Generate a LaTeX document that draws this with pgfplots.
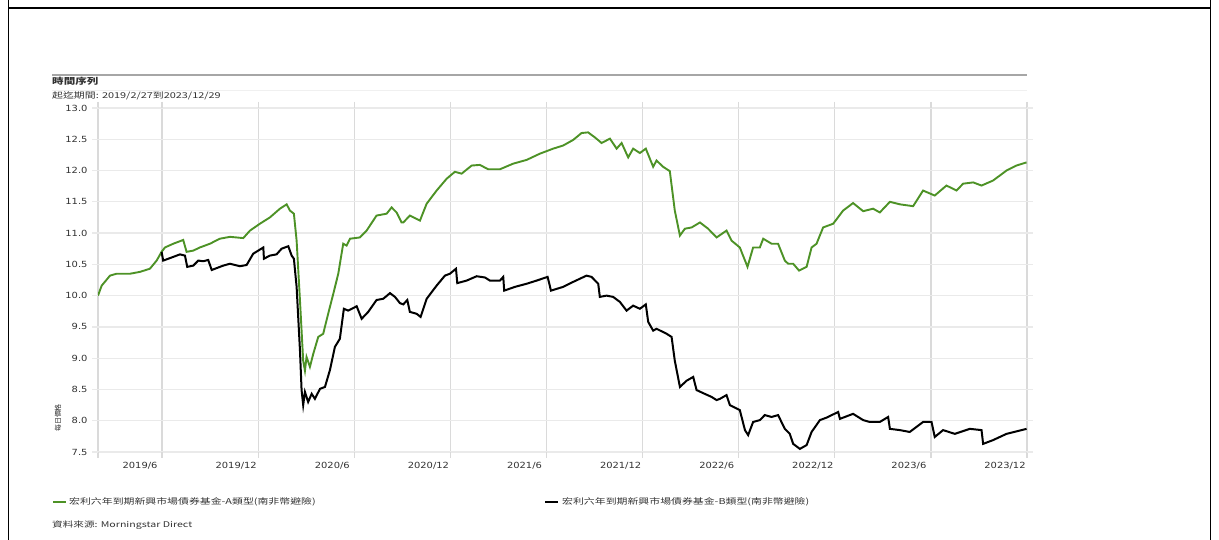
\documentclass[border=0pt]{standalone}
\usepackage{fontspec}
\usepackage{pgfplots}
\pgfplotsset{compat=1.18}
\setmainfont{DejaVu Sans}[FakeStretch=1.17]
\newfontfamily\cjk{Noto Sans CJK TC}[FakeStretch=1.35]
\newfontfamily\cjkplain{Noto Sans CJK TC}
\definecolor{fundA}{RGB}{77,146,38}
\definecolor{gridv}{RGB}{218,218,218}
\definecolor{gridh}{RGB}{234,234,234}
\definecolor{txt}{RGB}{50,50,50}
\begin{document}
\begin{tikzpicture}[x=1bp,y=1bp]
\useasboundingbox (0,0) rectangle (1219,540);
% table cell border
\draw[line width=1bp] (8,0) -- (8,540);
\draw[line width=1bp] (1210,0) -- (1210,540);
\draw[line width=1.8bp] (8,532) -- (1210,532);
% header
\draw[gray!70, line width=1.5bp] (52,465) -- (1027,465);
\node[anchor=west, inner sep=0, text=txt] at (52,459) {\cjk\bfseries\fontsize{8.6}{10}\selectfont 時間序列};
\draw[gray!12, line width=0.8bp] (52,450) -- (1027,450);
\node[anchor=west, inner sep=0, text=txt] at (52,444) {\cjk\fontsize{8.1}{9}\selectfont 起迄期間: 2019/2/27到2023/12/29};
% y label
\node[rotate=90, inner sep=0, text=txt] at (58,122) {\cjkplain\fontsize{7}{8}\selectfont 每日價格};

\begin{axis}[
    at={(98bp,88bp)}, anchor=south west,
    scale only axis,
    width=929bp, height=344bp,
    xmin=2, xmax=60,
    ymin=7.5, ymax=13.0,
    axis line style={draw=none},
    xtick={2,6,12,18,24,30,36,42,48,54,60},
    xticklabels={,2019/6,2019/12,2020/6,2020/12,2021/6,2021/12,2022/6,2022/12,2023/6,2023/12},
    ytick={7.5,8.0,...,13.0},
    yticklabel style={/pgf/number format/fixed, /pgf/number format/fixed zerofill, /pgf/number format/precision=1, xshift=-1bp},
    /pgf/number format/assume math mode=true,
    tick label style={font=\fontsize{8.5}{10}\selectfont, text=txt},
    xticklabel style={xshift=-22bp, yshift=-1bp},
    tick align=outside,
    major tick length=6bp,
    xtick style={draw=gridv, line width=1.2bp},
    ytick style={draw=gridh, line width=1.2bp},
    xmajorgrids, ymajorgrids,
    x grid style={draw=gridv, line width=1.2bp},
    y grid style={draw=gridh, line width=1.2bp},
  ]
  \addplot[fundA, line width=1.9bp] coordinates {
(2.0,10.0)(2.23,10.16)(2.75,10.32)(3.16,10.35)(4.0,10.35)(4.62,10.38)(5.24,10.43)(5.66,10.56)(5.97,10.7)(6.18,10.77)(6.70,10.83)(7.32,10.89)(7.53,10.70)(7.95,10.72)(8.36,10.77)(8.99,10.83)(9.61,10.91)(10.24,10.94)(11.07,10.92)(11.49,11.04)(12.11,11.15)(12.73,11.25)(13.36,11.39)(13.78,11.46)(13.98,11.36)(14.23,11.31)(14.40,10.88)(14.61,9.92)(14.81,8.96)(14.92,8.80)(15.02,9.02)(15.23,8.86)(15.44,9.07)(15.75,9.34)(16.06,9.39)(16.37,9.71)(16.69,10.03)(17.00,10.35)(17.31,10.83)(17.52,10.80)(17.73,10.91)(18.35,10.93)(18.77,11.04)(19.39,11.28)(20.02,11.31)(20.33,11.41)(20.64,11.33)(20.95,11.17)(21.06,11.17)(21.47,11.28)(22.10,11.20)(22.52,11.47)(23.14,11.68)(23.77,11.87)(24.28,11.98)(24.70,11.95)(25.33,12.08)(25.84,12.09)(26.36,12.02)(27.09,12.02)(27.92,12.11)(28.76,12.17)(29.59,12.27)(30.42,12.35)(31.04,12.40)(31.67,12.49)(32.19,12.60)(32.60,12.61)(33.02,12.53)(33.44,12.44)(33.96,12.51)(34.38,12.35)(34.69,12.44)(35.10,12.21)(35.41,12.35)(35.83,12.28)(36.20,12.35)(36.66,12.06)(36.87,12.16)(37.28,12.06)(37.70,11.99)(38.01,11.36)(38.33,10.96)(38.64,11.07)(39.06,11.09)(39.58,11.17)(40.09,11.07)(40.62,10.93)(41.24,11.04)(41.55,10.88)(42.07,10.77)(42.55,10.46)(42.90,10.77)(43.32,10.77)(43.53,10.91)(44.05,10.83)(44.46,10.83)(44.88,10.56)(45.09,10.51)(45.40,10.51)(45.77,10.40)(46.24,10.46)(46.55,10.77)(46.86,10.83)(47.27,11.09)(47.90,11.15)(48.52,11.36)(49.14,11.48)(49.77,11.35)(50.39,11.39)(50.81,11.33)(51.44,11.50)(52.06,11.46)(52.89,11.43)(53.51,11.68)(54.24,11.60)(54.97,11.76)(55.60,11.68)(56.01,11.79)(56.64,11.81)(57.16,11.76)(57.88,11.84)(58.72,12.00)(59.34,12.08)(59.97,12.13)
  };
  \addplot[black, line width=2bp] coordinates {
(5.97,10.70)(6.07,10.56)(6.60,10.61)(7.12,10.66)(7.43,10.64)(7.57,10.46)(7.95,10.48)(8.26,10.56)(8.57,10.55)(8.88,10.57)(9.10,10.41)(9.82,10.48)(10.24,10.51)(10.86,10.47)(11.28,10.49)(11.69,10.67)(12.32,10.77)(12.36,10.59)(12.73,10.64)(13.15,10.66)(13.46,10.75)(13.88,10.79)(14.09,10.64)(14.23,10.59)(14.40,10.14)(14.61,9.12)(14.71,8.49)(14.81,8.25)(14.92,8.46)(15.12,8.30)(15.34,8.43)(15.54,8.35)(15.86,8.51)(16.17,8.54)(16.48,8.81)(16.79,9.18)(17.10,9.31)(17.35,9.79)(17.62,9.76)(18.15,9.83)(18.46,9.63)(18.87,9.74)(19.39,9.93)(19.81,9.95)(20.23,10.04)(20.54,9.98)(20.85,9.88)(21.06,9.86)(21.31,9.93)(21.47,9.74)(21.89,9.71)(22.14,9.66)(22.52,9.95)(23.14,10.16)(23.66,10.32)(23.97,10.35)(24.35,10.43)(24.43,10.20)(25.01,10.24)(25.64,10.31)(26.16,10.29)(26.47,10.24)(27.09,10.24)(27.30,10.30)(27.36,10.08)(28.03,10.14)(28.76,10.19)(29.38,10.24)(30.07,10.30)(30.28,10.08)(31.04,10.14)(31.67,10.22)(32.50,10.32)(32.81,10.30)(33.23,10.19)(33.33,9.98)(33.75,10.00)(34.16,9.98)(34.58,9.90)(35.00,9.76)(35.41,9.84)(35.83,9.79)(36.20,9.86)(36.35,9.58)(36.66,9.44)(36.87,9.47)(37.50,9.39)(37.81,9.34)(38.01,8.96)(38.33,8.54)(38.75,8.64)(39.16,8.70)(39.37,8.49)(39.79,8.44)(40.31,8.38)(40.62,8.33)(40.83,8.35)(41.24,8.41)(41.45,8.25)(42.07,8.17)(42.39,7.85)(42.59,7.77)(42.90,7.98)(43.32,8.01)(43.63,8.09)(44.05,8.06)(44.46,8.09)(44.88,7.87)(45.19,7.79)(45.40,7.63)(45.82,7.55)(46.24,7.61)(46.55,7.82)(47.07,8.01)(47.49,8.05)(48.21,8.14)(48.32,8.03)(49.14,8.11)(49.77,8.01)(50.18,7.98)(50.81,7.98)(51.33,8.06)(51.44,7.87)(52.06,7.85)(52.68,7.82)(53.51,7.98)(54.04,7.98)(54.24,7.74)(54.76,7.85)(55.49,7.79)(56.43,7.87)(57.16,7.85)(57.26,7.63)(57.88,7.69)(58.72,7.79)(59.97,7.87)
  };
\end{axis}

% legend
\draw[fundA, line width=1.9bp] (53,38) -- (66,38);
\node[anchor=west, inner sep=0, text=txt] at (69,38) {\cjk\fontsize{8.1}{10}\selectfont 宏利六年到期新興市場債券基金-A類型(南非幣避險)};
\draw[black, line width=2bp] (545,38) -- (558,38);
\node[anchor=west, inner sep=0, text=txt] at (562,38) {\cjk\fontsize{8.1}{10}\selectfont 宏利六年到期新興市場債券基金-B類型(南非幣避險)};
% source
\node[anchor=west, inner sep=0, text=txt] at (52,15) {\cjk\fontsize{7.9}{9}\selectfont 資料來源: Morningstar Direct};
\end{tikzpicture}
\end{document}
